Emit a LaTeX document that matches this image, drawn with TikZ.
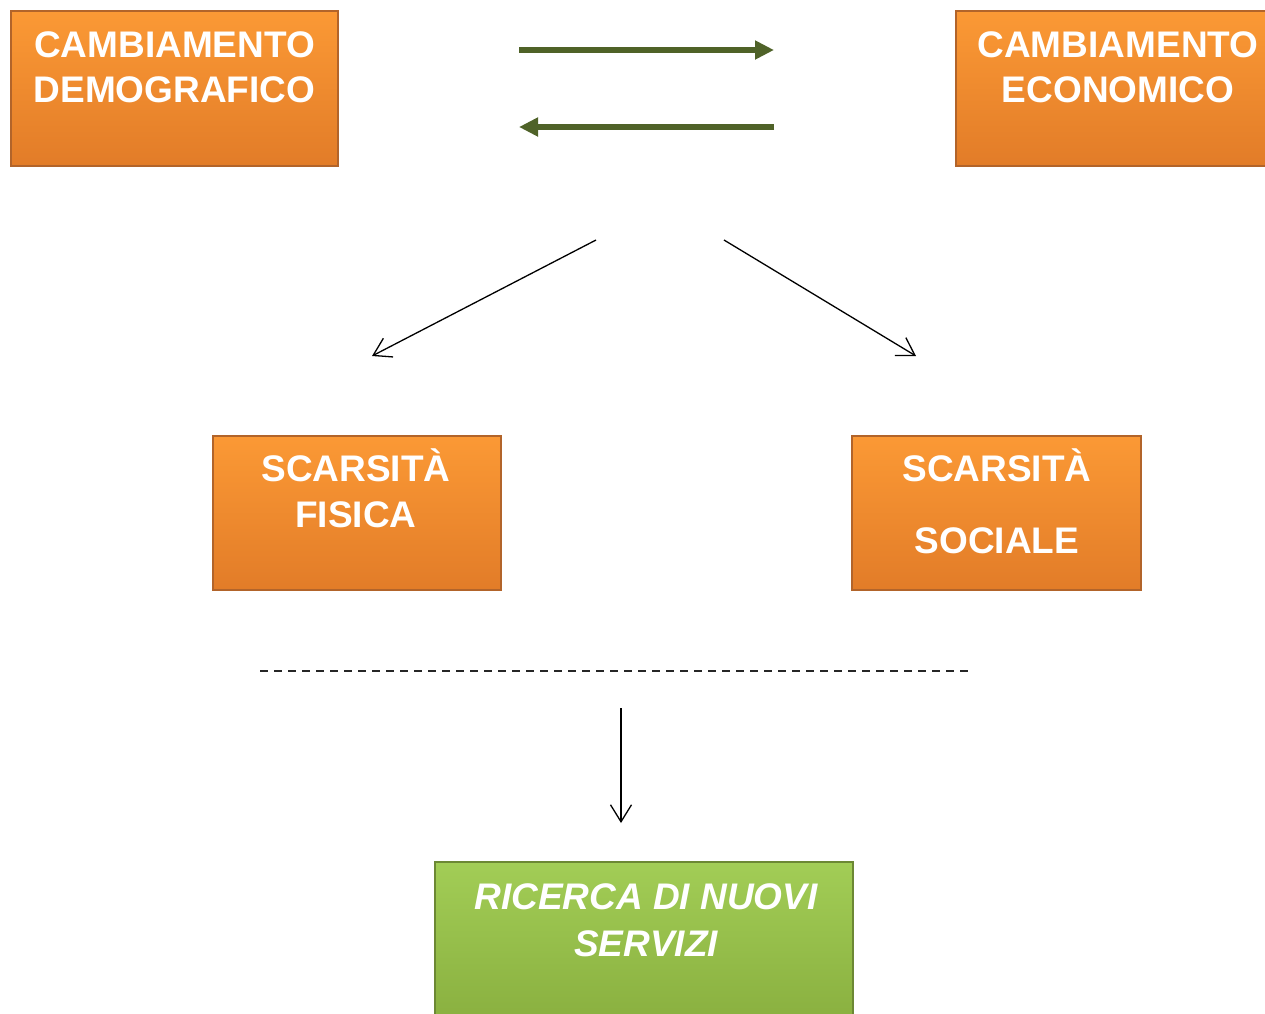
\documentclass[tikz,border=0pt]{standalone}
\usepackage{fontspec}
\setmainfont{Liberation Sans}
\usetikzlibrary{arrows.meta}
\definecolor{orTop}{RGB}{251,153,53}
\definecolor{orBot}{RGB}{226,124,40}
\definecolor{orEdge}{RGB}{178,100,42}
\definecolor{grTop}{RGB}{162,205,86}
\definecolor{grBot}{RGB}{136,174,62}
\definecolor{grEdge}{RGB}{108,136,52}
\definecolor{olive}{RGB}{79,98,40}
\begin{document}
\begin{tikzpicture}[x=1pt,y=-1pt,
  obox/.style={draw=orEdge, line width=1.5pt, top color=orTop, bottom color=orBot, anchor=north west, inner sep=0pt, outer sep=0pt},
  gbox/.style={draw=grEdge, line width=1.5pt, top color=grTop, bottom color=grBot, anchor=north west, inner sep=0pt, outer sep=0pt},
  lbl/.style={text=white, font=\bfseries\fontsize{37}{45}\selectfont, anchor=base, inner sep=0pt},
  ilbl/.style={lbl, font=\bfseries\itshape\fontsize{37}{45}\selectfont},
  bigarrow/.style={draw=olive, line width=5.5pt, -{Triangle[length=19pt,width=18pt]}},
  thinarrow/.style={draw=black, line width=1.3pt, -{Straight Barb[length=17pt,width=21pt,line width=1.3pt]}},
  sepline/.style={draw=black!85, line width=1.8pt, dash pattern=on 8pt off 6pt}
]
\clip (0,0) rectangle (1265,1013);
\useasboundingbox (0,0) rectangle (1265,1013);
\fill[white] (0,0) rectangle (1265,1013);

% boxes
\node[obox, minimum width=327pt, minimum height=155pt] (cd) at (11,11) {};
\node[obox, minimum width=330pt, minimum height=155pt] (ce) at (956,11) {};
\node[obox, minimum width=288pt, minimum height=154pt] (sf) at (213,436) {};
\node[obox, minimum width=289pt, minimum height=154pt] (ss) at (852,436) {};
\node[gbox, minimum width=418pt, minimum height=170pt] (rn) at (435,862) {};

% labels
\node[lbl] (cd1) at (174.5,57) {CAMBIAMENTO};
\node[lbl] (cd2) at (174.5,102) {DEMOGRAFICO};
\node[lbl] (ce1) at (1118,57) {CAMBIAMENTO};
\node[lbl] (ce2) at (1118,102) {ECONOMICO};
\node[lbl] (sf1) at (356,481) {SCARSITÀ};
\node[lbl] (sf2) at (356,527) {FISICA};
\node[lbl] (ss1) at (997,481) {SCARSITÀ};
\node[lbl] (ss2) at (997,553) {SOCIALE};
\node[ilbl] (rn1) at (646,909) {RICERCA DI NUOVI};
\node[ilbl] (rn2) at (646,956) {SERVIZI};

% arrows between the top boxes
\coordinate (a1s) at (519,50);
\coordinate (a1e) at (774,50);
\coordinate (a2s) at (774,127);
\coordinate (a2e) at (519,127);
\draw[bigarrow] (a1s) -- (a1e);
\draw[bigarrow] (a2s) -- (a2e);

% diagonal arrows
\coordinate (d1s) at (596,240);
\coordinate (d1e) at (372,356);
\coordinate (d2s) at (724,240);
\coordinate (d2e) at (916,356);
\draw[thinarrow] (d1s) -- (d1e);
\draw[thinarrow] (d2s) -- (d2e);

% dashed separator
\coordinate (sl) at (260,671);
\coordinate (sr) at (968,671);
\draw[sepline] (sl) -- (sr);

% down arrow
\coordinate (vs) at (621,708);
\coordinate (ve) at (621,823);
\draw[thinarrow] (vs) -- (ve);
\end{tikzpicture}
\end{document}
